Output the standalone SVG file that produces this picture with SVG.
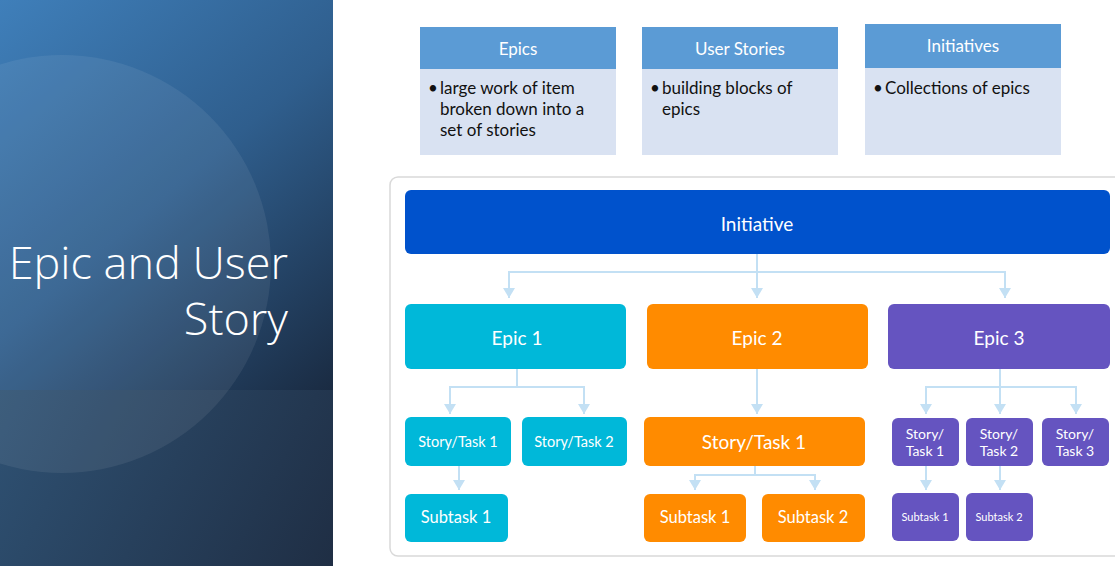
<svg xmlns="http://www.w3.org/2000/svg" width="1115" height="566" viewBox="0 0 1115 566">
  <defs>
    <linearGradient id="panelTop" x1="0" y1="0" x2="333" y2="390" gradientUnits="userSpaceOnUse">
      <stop offset="0" stop-color="#3f7fba"/>
      <stop offset="0.5" stop-color="#2f5e8d"/>
      <stop offset="1" stop-color="#1a2b42"/>
    </linearGradient>
    <linearGradient id="panelBottom" x1="0" y1="390" x2="333" y2="566" gradientUnits="userSpaceOnUse">
      <stop offset="0" stop-color="#2f5274"/>
      <stop offset="1" stop-color="#1f2e44"/>
    </linearGradient>
    <marker id="arrow" viewBox="0 0 10 12" refX="10" refY="6" markerWidth="10" markerHeight="12" markerUnits="userSpaceOnUse" orient="auto-start-reverse">
      <path d="M0,0 L10,6 L0,12 Z" fill="#c3e0f4"/>
    </marker>
    <style>
      .title { font-family: "Open Sans", "Noto Sans", sans-serif; font-weight: 300; font-size: 45px; fill: #ffffff; }
      .cardHead { fill: #5b9bd5; }
      .cardBody { fill: #d9e2f2; }
      .headText { font-family: Lato, "Liberation Sans", sans-serif; font-size: 17px; fill: #ffffff; text-anchor: middle; }
      .bodyText { font-family: Lato, "Liberation Sans", sans-serif; font-size: 17px; fill: #111111; }
      .frame { fill: #ffffff; stroke: #d9d9d9; stroke-width: 1.5; }
      .node text { font-family: Lato, "Liberation Sans", sans-serif; fill: #ffffff; text-anchor: middle; }
      .cyan { fill: #00b8d9; }
      .orange { fill: #ff8b00; }
      .purple { fill: #6554c0; }
      .blue { fill: #0052cc; }
      .link { fill: none; stroke: #c3e0f4; stroke-width: 2; }
    </style>
  </defs>

  <rect width="1115" height="566" fill="#ffffff"/>

  <!-- title panel -->
  <g id="title-panel">
    <rect x="0" y="0" width="333" height="390" fill="url(#panelTop)"/>
    <rect x="0" y="390" width="333" height="176" fill="url(#panelBottom)"/>
    <circle cx="62" cy="264" r="209" fill="#ffffff" fill-opacity="0.07"/>
    <text class="title" x="288" y="279" text-anchor="end">Epic and User</text>
    <text class="title" x="288" y="335" text-anchor="end">Story</text>
  </g>

  <!-- definition cards -->
  <g id="card-epics">
    <rect class="cardBody" x="420" y="69" width="196" height="86"/>
    <rect class="cardHead" x="420" y="27" width="196" height="42"/>
    <text class="headText" x="518" y="55">Epics</text>
    <text class="bodyText" x="428" y="94">•</text>
    <text class="bodyText" x="440" y="94">large work of item</text>
    <text class="bodyText" x="440" y="115">broken down into a</text>
    <text class="bodyText" x="440" y="136">set of stories</text>
  </g>
  <g id="card-user-stories">
    <rect class="cardBody" x="642" y="69" width="196" height="86"/>
    <rect class="cardHead" x="642" y="27" width="196" height="42"/>
    <text class="headText" x="740" y="55">User Stories</text>
    <text class="bodyText" x="650" y="94">•</text>
    <text class="bodyText" x="662" y="94">building blocks of</text>
    <text class="bodyText" x="662" y="115">epics</text>
  </g>
  <g id="card-initiatives">
    <rect class="cardBody" x="865" y="68" width="196" height="87"/>
    <rect class="cardHead" x="865" y="24" width="196" height="44"/>
    <text class="headText" x="963" y="52">Initiatives</text>
    <text class="bodyText" x="873" y="94">•</text>
    <text class="bodyText" x="885" y="94">Collections of epics</text>
  </g>

  <!-- hierarchy frame -->
  <rect class="frame" x="390" y="177" width="740" height="379" rx="8"/>

  <!-- connectors -->
  <g id="connectors">
    <path class="link" d="M757,254 V272"/>
    <path class="link" d="M509,298 V272 H1005 V298" marker-start="url(#arrow)" marker-end="url(#arrow)"/>
    <path class="link" d="M757,272 V298" marker-end="url(#arrow)"/>

    <path class="link" d="M517,369 V387"/>
    <path class="link" d="M450,414 V387 H584 V414" marker-start="url(#arrow)" marker-end="url(#arrow)"/>
    <path class="link" d="M459,466 V490" marker-end="url(#arrow)"/>

    <path class="link" d="M757,369 V414" marker-end="url(#arrow)"/>
    <path class="link" d="M755,466 V475"/>
    <path class="link" d="M695,490 V475 H815 V490" marker-start="url(#arrow)" marker-end="url(#arrow)"/>

    <path class="link" d="M1000,369 V387"/>
    <path class="link" d="M926,414 V387 H1076 V414" marker-start="url(#arrow)" marker-end="url(#arrow)"/>
    <path class="link" d="M1000,387 V414" marker-end="url(#arrow)"/>
    <path class="link" d="M926,466 V490" marker-end="url(#arrow)"/>
    <path class="link" d="M1000,466 V490" marker-end="url(#arrow)"/>
  </g>

  <!-- initiative -->
  <g id="initiative" class="node">
    <rect class="blue" x="405" y="190" width="705" height="64" rx="6"/>
    <text x="757" y="231" font-size="19">Initiative</text>
  </g>

  <!-- epics -->
  <g id="epic-1" class="node">
    <rect class="cyan" x="405" y="304" width="221" height="65" rx="6"/>
    <text x="517" y="345" font-size="19">Epic 1</text>
  </g>
  <g id="epic-2" class="node">
    <rect class="orange" x="647" y="304" width="221" height="65" rx="6"/>
    <text x="757" y="345" font-size="19">Epic 2</text>
  </g>
  <g id="epic-3" class="node">
    <rect class="purple" x="888" y="304" width="222" height="65" rx="6"/>
    <text x="999" y="345" font-size="19">Epic 3</text>
  </g>

  <!-- epic 1 children -->
  <g id="e1-story-1" class="node">
    <rect class="cyan" x="405" y="417" width="106" height="49" rx="6"/>
    <text x="458" y="447" font-size="14.5">Story/Task 1</text>
  </g>
  <g id="e1-story-2" class="node">
    <rect class="cyan" x="522" y="417" width="105" height="49" rx="6"/>
    <text x="574" y="447" font-size="14.5">Story/Task 2</text>
  </g>
  <g id="e1-subtask-1" class="node">
    <rect class="cyan" x="405" y="494" width="103" height="48" rx="6"/>
    <text x="456" y="523" font-size="16.5">Subtask 1</text>
  </g>

  <!-- epic 2 children -->
  <g id="e2-story-1" class="node">
    <rect class="orange" x="644" y="417" width="221" height="49" rx="6"/>
    <text x="754" y="449" font-size="19">Story/Task 1</text>
  </g>
  <g id="e2-subtask-1" class="node">
    <rect class="orange" x="644" y="494" width="102" height="48" rx="6"/>
    <text x="695" y="523" font-size="16.5">Subtask 1</text>
  </g>
  <g id="e2-subtask-2" class="node">
    <rect class="orange" x="762" y="494" width="103" height="48" rx="6"/>
    <text x="813" y="523" font-size="16.5">Subtask 2</text>
  </g>

  <!-- epic 3 children -->
  <g id="e3-story-1" class="node">
    <rect class="purple" x="892" y="418" width="67" height="48" rx="6"/>
    <text x="925" y="439" font-size="14">Story/</text>
    <text x="925" y="456" font-size="14">Task 1</text>
  </g>
  <g id="e3-story-2" class="node">
    <rect class="purple" x="966" y="418" width="67" height="48" rx="6"/>
    <text x="999" y="439" font-size="14">Story/</text>
    <text x="999" y="456" font-size="14">Task 2</text>
  </g>
  <g id="e3-story-3" class="node">
    <rect class="purple" x="1042" y="418" width="67" height="48" rx="6"/>
    <text x="1075" y="439" font-size="14">Story/</text>
    <text x="1075" y="456" font-size="14">Task 3</text>
  </g>
  <g id="e3-subtask-1" class="node">
    <rect class="purple" x="892" y="493" width="67" height="48" rx="6"/>
    <text x="925" y="521" font-size="11">Subtask 1</text>
  </g>
  <g id="e3-subtask-2" class="node">
    <rect class="purple" x="966" y="493" width="67" height="48" rx="6"/>
    <text x="999" y="521" font-size="11">Subtask 2</text>
  </g>
</svg>
